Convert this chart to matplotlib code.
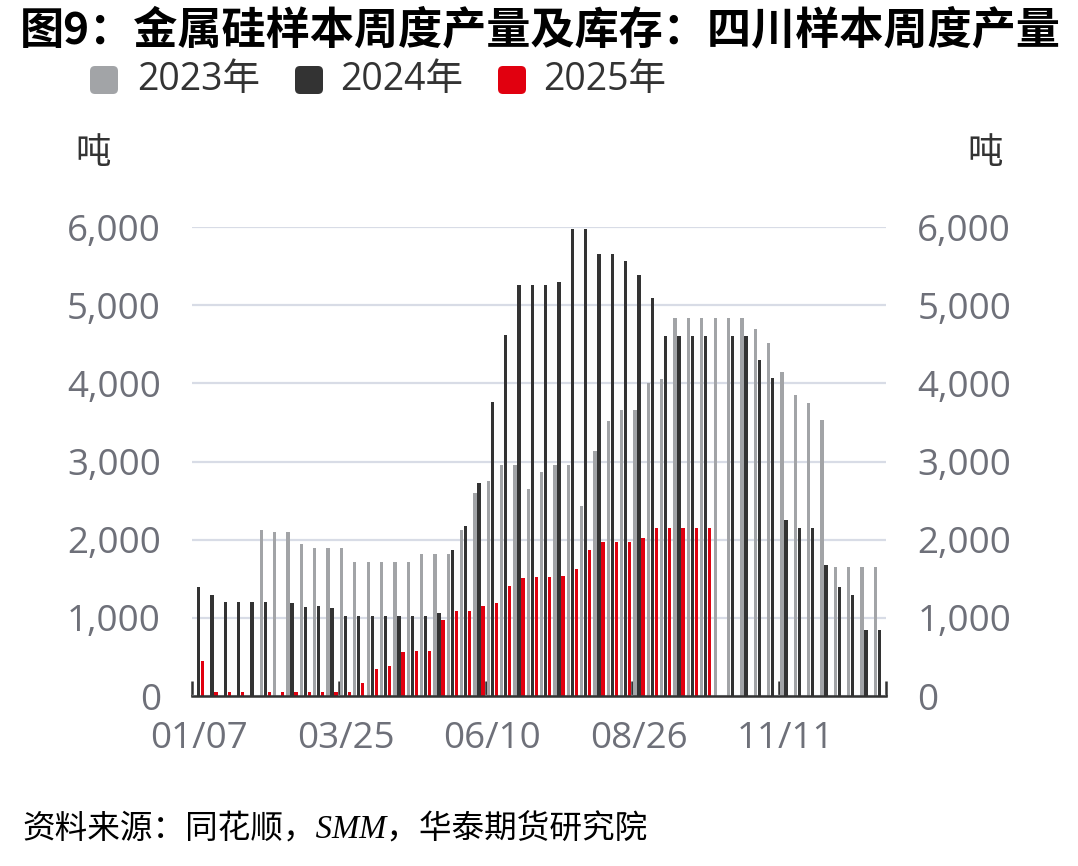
import numpy as np
import matplotlib
matplotlib.use("Agg")
import matplotlib.pyplot as plt
from matplotlib.patches import FancyBboxPatch
from matplotlib.transforms import IdentityTransform

plt.rcParams['font.family'] = ['Open Sans', 'Noto Sans CJK SC', 'DejaVu Sans']

nan = np.nan
weeks = ["01/07", "01/14", "01/21", "01/28", "02/04", "02/11", "02/18", "02/25",
         "03/04", "03/11", "03/18", "03/25", "04/01", "04/08", "04/15", "04/22",
         "04/29", "05/06", "05/13", "05/20", "05/27", "06/03", "06/10", "06/17",
         "06/24", "07/01", "07/08", "07/15", "07/22", "07/29", "08/05", "08/12",
         "08/19", "08/26", "09/02", "09/09", "09/16", "09/23", "09/30", "10/07",
         "10/14", "10/21", "10/28", "11/04", "11/11", "11/18", "11/25", "12/02",
         "12/09", "12/16", "12/23", "12/30"]
shown_labels = ["01/07", "03/25", "06/10", "08/26", "11/11"]

y2023 = [nan, nan, nan, nan, nan, 2120, 2100, 2100, 1950, 1890, 1890, 1890, 1710,
         1710, 1710, 1710, 1710, 1820, 1820, 1820, 2120, 2600, 2750, 2950, 2950,
         2650, 2860, 2950, 2950, 2430, 3140, 3520, 3660, 3660, 4010, 4050, 4840,
         4840, 4840, 4840, 4840, 4840, 4690, 4510, 4150, 3850, 3750, 3530, 1650,
         1650, 1650, 1650]
y2024 = [1390, 1290, 1200, 1200, 1200, 1200, nan, 1190, 1140, 1150, 1130, 1020,
         1020, 1020, 1020, 1020, 1020, 1020, 1060, 1870, 2170, 2730, 3760, 4620,
         5260, 5260, 5260, 5290, 5980, 5980, 5650, 5650, 5560, 5380, 5090, 4610,
         4610, 4610, 4610, nan, 4610, 4600, 4300, 4070, 2250, 2150, 2150, 1670,
         1400, 1290, 850, 840]
y2025 = [450, 50, 50, 50, nan, 50, 50, 50, 50, 50, 50, 50, 160, 340, 390, 560,
         580, 580, 970, 1090, 1090, 1150, 1190, 1410, 1510, 1520, 1520, 1540,
         1620, 1870, 1970, 1970, 1970, 2020, 2150, 2150, 2150, 2150, 2150]
y2025 = y2025 + [nan] * (len(weeks) - len(y2025))

series_names = ["2023年", "2024年", "2025年"]
colors = ["#a2a4a7", "#333333", "#e1000f"]
yticks = [0, 1000, 2000, 3000, 4000, 5000, 6000]

W, H = 1078, 866
fig = plt.figure(figsize=(W / 100, H / 100), dpi=100)
ax = fig.add_axes([192 / W, 1 - 696 / H, (886 - 192) / W, (696 - 227) / H])

x = np.arange(len(weeks))
bw = 0.25
off = 0.3
for k, (vals, c) in enumerate(zip([y2023, y2024, y2025], colors)):
    ax.bar(x + (k - 1) * off, np.array(vals, dtype=float), width=bw, color=c,
           linewidth=0, zorder=3)

ax.set_xlim(-0.5, len(weeks) - 0.5)
ax.set_ylim(0, 6000)
ax.set_yticks(yticks)
ax.set_yticklabels([f"{v:,}" for v in yticks])
ax.yaxis.grid(True, color="#d8dce6", linewidth=1.6, zorder=0)
ax.set_axisbelow(True)
ax.tick_params(axis='y', left=False, right=False, labelleft=True, labelright=True,
               labelsize=26.5, labelcolor="#6e7079", pad=19)

# boundary ticks and centered labels
label_idx = [weeks.index(s) for s in shown_labels]
ax.set_xticks([i - 0.5 for i in label_idx] + [len(weeks) - 0.5])
ax.set_xticklabels([])
ax.tick_params(axis='x', which='major', direction='in', length=11, width=1.8,
               color="#333333")
ax.set_xticks(label_idx, minor=True)
ax.set_xticklabels(shown_labels, minor=True)
ax.tick_params(axis='x', which='minor', length=0, labelsize=26.5,
               labelcolor="#6e7079", pad=18)

for s in ["top", "left", "right"]:
    ax.spines[s].set_visible(False)
ax.spines["bottom"].set_color("#333333")
ax.spines["bottom"].set_linewidth(1.8)
ax.spines["bottom"].set_zorder(4)

# units
fig.text(93 / W, 1 - 153 / H, "吨", ha="center", va="center", fontsize=25.5,
         color="#333333", family=["Noto Sans CJK SC"])
fig.text(985 / W, 1 - 153 / H, "吨", ha="center", va="center", fontsize=25.5,
         color="#333333", family=["Noto Sans CJK SC"])

# title
fig.text(20 / W, 1 - 30 / H, "图9：金属硅样本周度产量及库存：四川样本周度产量",
         ha="left", va="center", fontsize=31.8, fontweight="bold", color="black",
         family=["Noto Sans CJK SC"])

# legend
leg_x = [90, 295, 498]
txt_x = [137, 340, 543]
for lx, tx, c, name in zip(leg_x, txt_x, colors, series_names):
    sq = FancyBboxPatch((lx, H - 94), 28, 28,
                        boxstyle="round,pad=0,rounding_size=5",
                        transform=IdentityTransform(), facecolor=c,
                        edgecolor="none")
    fig.add_artist(sq)
    fig.text(tx / W, 1 - 80 / H, name, ha="left", va="center", fontsize=27,
             color="#333333", family=["Open Sans", "Noto Sans CJK SC"])

# source
fig.text(22 / W, 1 - 830 / H, "资料来源：同花顺，SMM，华泰期货研究院",
         ha="left", va="center", fontsize=23.5, style="italic", color="black",
         family=["Liberation Serif", "Noto Sans CJK SC"])

fig.savefig("out.png", dpi=100)
